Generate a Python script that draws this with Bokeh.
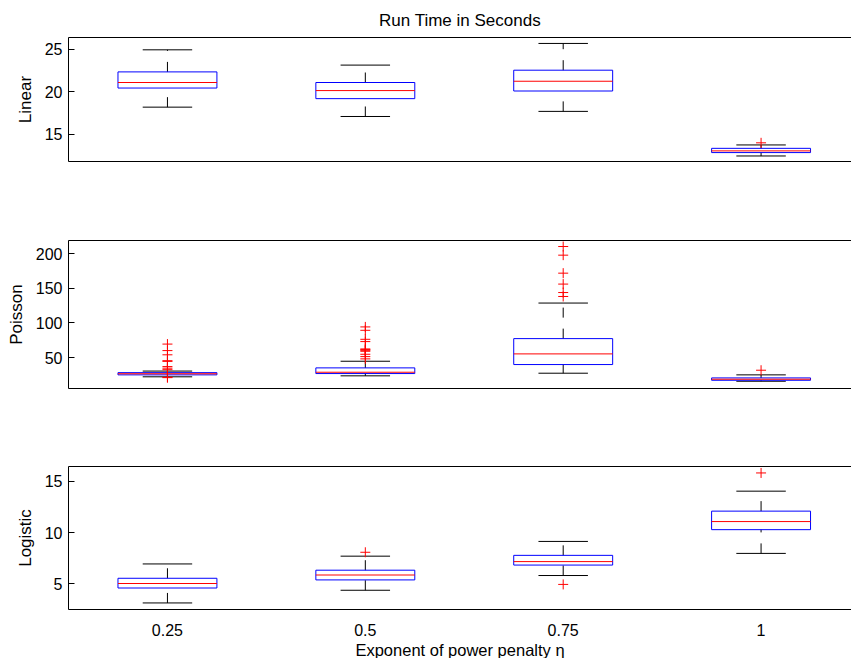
from bokeh.plotting import figure
from bokeh.models import Range1d, FixedTicker, LinearAxis, Title
from bokeh.layouts import column
from bokeh.embed import file_html
from bokeh.resources import INLINE

categories = ["0.25", "0.5", "0.75", "1"]
positions = [1, 2, 3, 4]

# Linear run times (s)
linear_low = [18.2, 17.1, 17.7, 12.45]
linear_q1 = [20.45, 19.2, 20.1, 12.85]
linear_med = [21.1, 20.15, 21.25, 13.05]
linear_q3 = [22.35, 21.1, 22.55, 13.35]
linear_high = [24.95, 23.15, 25.7, 13.75]
linear_outliers = [[], [], [], [14.0]]

# Poisson run times (s)
poisson_low = [22.2, 23.6, 27.4, 15.8]
poisson_q1 = [25.0, 26.9, 39.9, 17.2]
poisson_med = [26.6, 28.8, 55.3, 18.7]
poisson_q3 = [28.2, 35.1, 77.4, 20.6]
poisson_high = [30.5, 44.7, 128.8, 25.0]
poisson_outliers = [
    [69.5, 60.1, 54.0, 45.5, 44.5, 37.0, 34.7, 32.5, 21.5, 21.0],
    [94.3, 89.4, 76.4, 73.1, 62.5, 61.5, 60.5, 59.1, 54.8, 51.4, 48.1],
    [210.5, 198.0, 172.0, 156.2, 144.0, 138.3],
    [31.7],
]

# Logistic run times (s)
logistic_low = [3.13, 4.37, 5.81, 7.97]
logistic_q1 = [4.59, 5.38, 6.83, 10.29]
logistic_med = [5.03, 5.86, 7.17, 11.08]
logistic_q3 = [5.54, 6.33, 7.78, 12.1]
logistic_high = [6.94, 7.70, 9.14, 14.05]
logistic_outliers = [[], [8.08], [4.94], [15.83]]

linear_ticks = [15, 20, 25]
poisson_ticks = [50, 100, 150, 200]
logistic_ticks = [5, 10, 15]

TITLE = "Run Time in Seconds"
XLABEL = "Exponent of power penalty η"

FONT = "Liberation Sans"
x_range = Range1d(0.5, 4.457)


def make_panel(ylabel, lo, q1, med, q3, hi, outl, yr, yticks, height,
               btop, bbot, title=None, xlabels=False):
    p = figure(width=851, height=height, x_range=x_range,
               y_range=Range1d(*yr), output_backend="svg",
               toolbar_location=None, min_border_left=68,
               min_border_right=0, min_border_top=btop,
               min_border_bottom=bbot)
    p.outline_line_color = None
    p.grid.visible = False
    p.background_fill_color = "white"

    bw = 0.25
    cw = 0.125
    xs = positions
    # whiskers (dashed, drawn from lower end upward)
    p.segment(x0=xs, y0=q3, x1=xs, y1=hi, line_color="black",
              line_width=1, line_dash="10 11")
    p.segment(x0=xs, y0=lo, x1=xs, y1=q1, line_color="black",
              line_width=1, line_dash="10 11")
    # caps
    p.segment(x0=[x - cw for x in xs], y0=hi, x1=[x + cw for x in xs],
              y1=hi, line_color="black", line_width=1)
    p.segment(x0=[x - cw for x in xs], y0=lo, x1=[x + cw for x in xs],
              y1=lo, line_color="black", line_width=1)
    # boxes
    p.quad(left=[x - bw for x in xs], right=[x + bw for x in xs],
           bottom=q1, top=q3, fill_color=None, line_color="blue",
           line_width=1)
    # medians
    p.segment(x0=[x - bw for x in xs], y0=med, x1=[x + bw for x in xs],
              y1=med, line_color="red", line_width=1)
    # outliers
    ox, oy = [], []
    for x, vals in zip(xs, outl):
        for v in vals:
            ox.append(x)
            oy.append(v)
    if ox:
        p.scatter(x=ox, y=oy, marker="cross", size=10, line_color="red",
                  line_width=1)

    # y axis
    ya = p.yaxis[0]
    ya.ticker = FixedTicker(ticks=yticks)
    ya.major_tick_in = 6
    ya.major_tick_out = 0
    ya.minor_tick_line_color = None
    ya.axis_line_color = "black"
    ya.major_tick_line_color = "black"
    ya.major_label_text_font = FONT
    ya.major_label_text_font_size = "16px"
    ya.major_label_text_color = "black"
    ya.major_label_standoff = 6
    ya.axis_label = ylabel
    ya.axis_label_text_font = FONT
    ya.axis_label_text_font_size = "17px"
    ya.axis_label_text_font_style = "normal"
    ya.axis_label_text_color = "black"
    ya.axis_label_standoff = 7

    # x axis
    xa = p.xaxis[0]
    xa.axis_line_color = "black"
    xa.minor_tick_line_color = None
    xa.major_tick_line_color = None
    if xlabels:
        xa.ticker = FixedTicker(ticks=positions)
        xa.major_label_overrides = {pos: c for pos, c in zip(positions, categories)}
        xa.major_label_text_font = FONT
        xa.major_label_text_font_size = "16px"
        xa.major_label_text_color = "black"
        xa.major_label_standoff = 8
        xt = Title(text=XLABEL, align="center", text_font=FONT,
                   text_font_size="16.5px", text_font_style="normal",
                   text_color="black", standoff=0, offset=-2)
        p.add_layout(xt, "below")
    else:
        xa.ticker = FixedTicker(ticks=[])
        xa.major_label_text_font_size = "0px"

    # top border line
    top = LinearAxis(ticker=FixedTicker(ticks=[]), major_tick_in=0,
                     major_tick_out=0, minor_tick_in=0, minor_tick_out=0,
                     major_label_text_font_size="0px",
                     axis_line_color="black")
    p.add_layout(top, "above")

    if title:
        p.title.text = title
        p.title.align = "center"
        p.title.text_font = FONT
        p.title.text_font_size = "17px"
        p.title.text_font_style = "normal"
        p.title.text_color = "black"
        p.title.offset = 5
        p.title.standoff = 15
    return p


p1 = make_panel("Linear", linear_low, linear_q1, linear_med, linear_q3,
                linear_high, linear_outliers, (11.8, 26.4), linear_ticks,
                200, 37, 39, title=TITLE)
p2 = make_panel("Poisson", poisson_low, poisson_q1, poisson_med, poisson_q3,
                poisson_high, poisson_outliers, (5.3, 219.2), poisson_ticks,
                227, 40, 39)
p3 = make_panel("Logistic", logistic_low, logistic_q1, logistic_med,
                logistic_q3, logistic_high, logistic_outliers, (2.49, 16.46),
                logistic_ticks, 231, 39, 46, xlabels=True)

layout = column(p1, p2, p3, spacing=0)
open("out.html", "w").write(file_html(layout, INLINE))
